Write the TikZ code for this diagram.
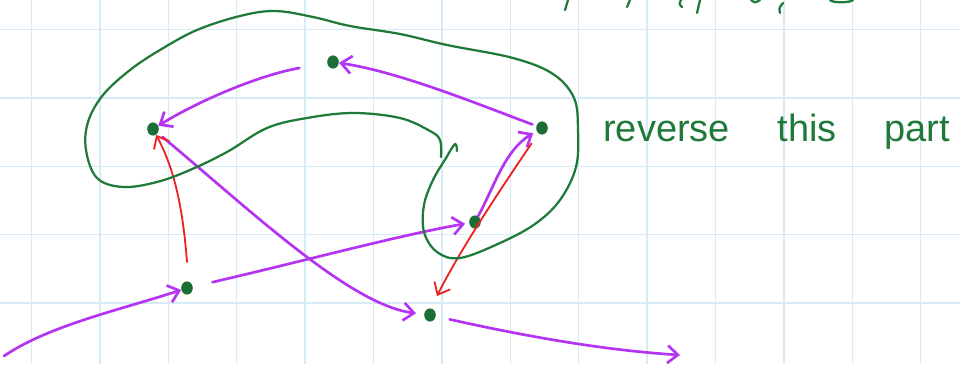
\documentclass[tikz,border=0pt]{standalone}
\usepackage{fontspec}
\setmainfont{Liberation Sans}
\usetikzlibrary{arrows.meta,shapes.geometric}
\definecolor{paperC}{HTML}{D5EBF8}
\definecolor{dotC}{HTML}{1B6E36}
\definecolor{noteC}{HTML}{1F7A3A}
\definecolor{walkC}{HTML}{B434F2}
\definecolor{fixC}{HTML}{EE2222}

\begin{document}
\begin{tikzpicture}[
  x=0.025cm, y=-0.025cm,
  >={Straight Barb[length=2.6mm,width=4.4mm]},
  dot/.style     ={ellipse, fill=dotC, inner sep=0pt, minimum width=2.9mm,
                   minimum height=3.3mm},
  walk/.style    ={->, draw=walkC, line width=1.9pt, line cap=round},
  fix/.style     ={->, draw=fixC, line width=1.3pt, line cap=round},
  loopline/.style={draw=noteC, line width=1.6pt, line cap=round, line join=round},
  note/.style    ={text=noteC, font=\fontsize{27}{30}\selectfont, inner sep=0pt},
  paper/.style   ={draw=paperC, line width=1.1pt},
]

% ---- sheet -----------------------------------------------------------------
\fill[white] (0,0) rectangle (960,364);
\useasboundingbox (0,0) rectangle (960,364);
\foreach \gx in {0,...,13} \draw[paper] (31.5+68.4*\gx,0) -- ++(0,364);
\foreach \gy in {0,...,4}  \draw[paper] (0,29.5+68.4*\gy) -- ++(960,0);

% ---- vertices --------------------------------------------------------------
\node[dot] (lft) at (153,129) {};
\node[dot] (tp)  at (333,62)  {};
\node[dot] (rgt) at (542,128) {};
\node[dot] (inn) at (475,222) {};
\node[dot] (low) at (187,288) {};
\node[dot] (dwn) at (430,315) {};

\coordinate (in0)  at (4,356);
\coordinate (out0) at (680,355);
\coordinate (fixA) at (187,262);
\coordinate (fixB) at (437,296);

% ---- the walk --------------------------------------------------------------
\draw[walk] (in0) .. controls (50,325) and (120,310) .. (low);
\draw[walk, shorten <=5mm, shorten >=1mm] (low) .. controls (300,262) and (400,235) .. (inn);
\draw[walk, shorten >=1mm] (inn) .. controls (495,185) and (505,150) .. (rgt);
\draw[walk, shorten <=1mm] (rgt) .. controls (480,105) and (400,72) .. (tp);
\draw[walk, shorten <=7mm] (tp) .. controls (260,75) and (200,100) .. (lft);
\draw[walk, shorten <=1.5mm, shorten >=2mm] (lft) .. controls (250,210) and (350,305) .. (dwn);
\draw[walk, shorten <=3.5mm] (dwn) .. controls (520,335) and (600,350) .. (out0);

% ---- red corrections -------------------------------------------------------
\draw[fix] (fixA) .. controls (183,210) and (175,170) .. (lft);
\draw[fix, shorten <=3mm] (rgt) .. controls (500,190) and (460,250) .. (fixB);

% ---- the part to reverse ---------------------------------------------------
\draw[loopline] plot[smooth, tension=0.6] coordinates {
  (441,157) (440,140) (430,131) (400,118) (353,113) (307,118) (267,128)
  (227,152) (190,170) (157,182) (123,187) (97,178) (86,150) (88,122)
  (103,95) (130,70) (160,50) (197,30) (240,16) (275,11) (313,17)
  (350,26) (400,34) (447,45) (513,58) (553,74) (574,98) (578,130)
  (576,167) (560,200) (535,224) (500,243) (460,258) (437,252)
  (424,232) (424,205) (433,180) (446,158) (455,144) (457,151)};

\node[note, anchor=base west] (txt) at (603,141)
  {reverse\hspace{34pt}this\hspace{34pt}part};

% cut-off writing along the top edge
\draw[loopline] (565,10) -- (568,0);
\draw[loopline] (627,7) -- (630,0);
\draw[loopline] (681,0) .. controls (679,4) .. (682,7);
\draw[loopline] (697,13) -- (700,0);
\draw[loopline] (751,0) .. controls (755,3) .. (760,0);
\draw[loopline] (780,13) .. controls (779,8) .. (783,3);
\draw[loopline] (830,0) .. controls (832,3) and (850,3) .. (853,0);

\end{tikzpicture}
\end{document}
